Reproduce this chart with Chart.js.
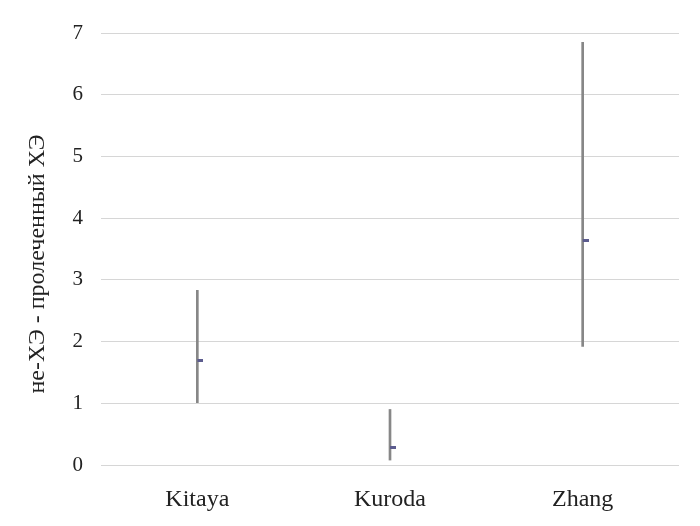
<!DOCTYPE html>
<html>
<head>
<meta charset="utf-8">
<script src="https://cdn.jsdelivr.net/npm/chart.js@4/dist/chart.umd.min.js"></script>
<style>
html,body{margin:0;padding:0;background:#fff;}
#wrap{width:700px;height:526px;}
</style>
</head>
<body>
<div id="wrap"><canvas id="c" width="700" height="526"></canvas></div>
<script>
const categories = ['Kitaya', 'Kuroda', 'Zhang'];
const lowValues = [1.01, 0.08, 1.92];
const highValues = [2.83, 0.90, 6.85];
const meanValues = [1.70, 0.29, 3.63];
const yTicks = [0, 1, 2, 3, 4, 5, 6, 7];
const yTitle = 'не-ХЭ - пролеченный ХЭ';

const FONT = "'Liberation Serif', 'Times New Roman', serif";

// mean marker: small rectangle sitting just right of the whisker line
const mark = document.createElement('canvas');
mark.width = 12; mark.height = 3;
const mctx = mark.getContext('2d');
mctx.fillStyle = '#5c5c8e';
mctx.fillRect(6, 0, 6, 3);

const ranges = categories.map((c, i) => [lowValues[i], highValues[i]]);

new Chart(document.getElementById('c'), {
  type: 'bar',
  data: {
    labels: categories,
    datasets: [
      { type: 'bar', data: ranges, backgroundColor: '#878787', borderWidth: 0, barThickness: 2, grouped: false, order: 2 },
      { type: 'line', data: meanValues, showLine: false, pointStyle: mark, pointRadius: 4, pointHoverRadius: 4, order: 1 }
    ]
  },
  options: {
    responsive: false,
    animation: false,
    events: [],
    layout: { padding: { top: 33, right: 21, left: 0, bottom: 0 } },
    plugins: { legend: { display: false }, tooltip: { enabled: false } },
    scales: {
      x: {
        offset: true,
        grid: { display: false },
        border: { display: false },
        ticks: { color: '#222', font: { family: FONT, size: 24 }, padding: 12 },
        afterFit: s => { s.height = 61; }
      },
      y: {
        min: 0, max: 7,
        afterBuildTicks: s => { s.ticks = yTicks.map(v => ({ value: v })); },
        grid: { color: '#d6d6d6', lineWidth: 1, drawTicks: false },
        border: { display: false },
        ticks: { color: '#222', font: { family: FONT, size: 21 }, padding: 18 },
        title: { display: true, text: yTitle + '\u00a0'.repeat(5), color: '#222', font: { family: FONT, size: 24 }, padding: { top: 23, bottom: 0 } },
        afterFit: s => { s.width = 101; s.paddingTop = 0; s.paddingBottom = 0; }
      }
    }
  }
});
</script>
</body>
</html>
